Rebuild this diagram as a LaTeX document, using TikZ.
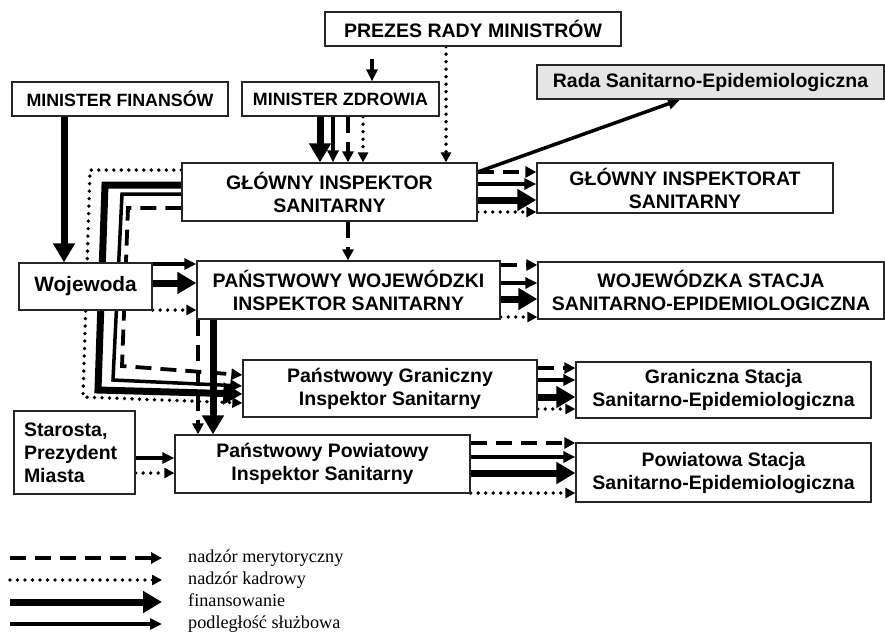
\documentclass[tikz,border=0pt]{standalone}
\usepackage{fontspec}
\setmainfont{Liberation Serif}
\setsansfont{Liberation Sans}
\usetikzlibrary{arrows.meta,backgrounds}
\definecolor{radagray}{gray}{0.9}
\tikzset{
  box/.style={draw=black!85, line width=1.3pt, fill=white, inner sep=0pt, align=center,
    font=\sffamily\bfseries\fontsize{19.5}{23}\selectfont},
  smallbox/.style={box, font=\sffamily\bfseries\fontsize{17.8}{21}\selectfont},
  fin/.style={line width=7pt, -{Triangle[length=19pt,width=21pt]}},
  sluzb/.style={line width=3.5pt, -{Triangle[length=12pt,width=11pt]}},
  meryt/.style={line width=3.8pt, dash pattern=on 16pt off 9pt, -{Triangle[length=11pt,width=11pt]}},
  kadr/.style={line width=3.8pt, line cap=round, dash pattern=on 0pt off 7.5pt, -{Triangle[length=10pt,width=10pt]}},
  legtext/.style={anchor=west, inner sep=0pt, text height=12pt, text depth=4pt, font=\fontsize{18.2}{22}\selectfont}
}
\begin{document}
\begin{tikzpicture}[x=1pt, y=-1pt]
    \useasboundingbox (0,0) rectangle (885,632);

    % boxes
    \node[box, minimum width=296pt, minimum height=34pt] (prezes) at (473,29) {PREZES RADY MINISTRÓW};
    \node[smallbox, minimum width=216pt, minimum height=34pt] (minfin) at (120,99) {MINISTER FINANSÓW};
    \node[smallbox, minimum width=197pt, minimum height=34pt] (minzdr) at (340.5,99) {MINISTER ZDROWIA};
    \node[box, fill=radagray, minimum width=347pt, minimum height=34pt] (rada) at (710.5,82) {Rada Sanitarno-Epidemiologiczna};
    \node[box, minimum width=295pt, minimum height=58pt] (gis) at (329.5,192) {GŁÓWNY INSPEKTOR\\SANITARNY};
    \node[box, minimum width=296pt, minimum height=50pt] (gir) at (685,188) {GŁÓWNY INSPEKTORAT\\SANITARNY};
    \node[box, minimum width=133pt, minimum height=47pt, font=\sffamily\bfseries\fontsize{20.8}{24}\selectfont] (woj) at (85.5,286.5) {Wojewoda};
    \node[box, minimum width=303pt, minimum height=58pt] (pwis) at (348.5,290) {PAŃSTWOWY WOJEWÓDZKI\\INSPEKTOR SANITARNY};
    \node[box, minimum width=346pt, minimum height=57pt] (wsse) at (711,290.5) {WOJEWÓDZKA STACJA\\SANITARNO-EPIDEMIOLOGICZNA};
    \node[box, minimum width=294pt, minimum height=57pt] (pgis) at (390,388.5) {Państwowy Graniczny\\Inspektor Sanitarny};
    \node[box, minimum width=295pt, minimum height=56pt] (gsse) at (723.5,390) {Graniczna Stacja\\Sanitarno-Epidemiologiczna};
    \node[box, minimum width=121pt, minimum height=83pt, text width=101pt, align=left] (star) at (74.5,452.5) {Starosta,\\Prezydent\\Miasta};
    \node[box, minimum width=295pt, minimum height=58pt] (ppis) at (322.5,464) {Państwowy Powiatowy\\Inspektor Sanitarny};
    \node[box, minimum width=295pt, minimum height=59pt] (psse) at (723.5,472.5) {Powiatowa Stacja\\Sanitarno-Epidemiologiczna};

    % connectors, behind the boxes
    \begin{scope}[on background layer]
        \draw[sluzb, shorten <=12pt] (prezes.south -| 372,0) -- (minzdr.north -| 372,0);
        \draw[kadr] (prezes.south -| 446,0) -- (gis.north -| 446,0);
        \foreach \xx/\st in {320/fin, 333/sluzb, 348/meryt, 363/kadr}
            \draw[\st] (minzdr.south -| \xx,0) -- (gis.north -| \xx,0);
        \draw[fin] (minfin.south -| 64,0) -- (woj.north -| 64,0);
        \draw[sluzb] (gis.east |- 0,172) -- (rada.south -| 680,0);
        \draw[meryt] (gis.south -| 348,0) -- (pwis.north -| 348,0);
        \draw[meryt] (pwis.south -| 198,0) -- (ppis.north -| 198,0);
        \draw[fin] (pwis.south -| 213,0) -- (ppis.north -| 213,0);

        \foreach \yy/\st in {172/meryt, 184/sluzb, 200/fin, 212/kadr}
            \draw[\st] (gis.east |- 0,\yy) -- (gir.west |- 0,\yy);
        \foreach \yy/\st in {264/sluzb, 283/fin, 310/kadr}
            \draw[\st] (woj.east |- 0,\yy) -- (pwis.west |- 0,\yy);
        \foreach \yy/\st in {265/meryt, 283/sluzb, 299/fin, 317/kadr}
            \draw[\st] (pwis.east |- 0,\yy) -- (wsse.west |- 0,\yy);
        \foreach \yy/\st in {368/meryt, 380/sluzb, 397/fin, 409/kadr}
            \draw[\st] (pgis.east |- 0,\yy) -- (gsse.west |- 0,\yy);
        \foreach \yy/\st in {458/sluzb, 473/kadr}
            \draw[\st] (star.east |- 0,\yy) -- (ppis.west |- 0,\yy);
        \foreach \yy/\st in {443/meryt, 457/sluzb, 473/fin, 493/kadr}
            \draw[\st] (ppis.east |- 0,\yy) -- (psse.west |- 0,\yy);

        % GIS down the left side to the border inspector
        \draw[kadr] (gis.west |- 0,170) -- (90,170) -- (83,397) -- (pgis.west |- 0,403);
        \draw[fin] (gis.west |- 0,185) -- (105,185) -- (98,390) -- (pgis.west |- 0,394);
        \draw[sluzb] (gis.west |- 0,194) -- (122,194) -- (113,380) -- (pgis.west |- 0,386);
        \draw[meryt] (gis.west |- 0,208) -- (128,208) -- (122,366) -- (pgis.west |- 0,375);
    \end{scope}

    % legend
    \foreach \st/\txt [count=\i] in {meryt/nadzór merytoryczny, kadr/nadzór kadrowy, fin/finansowanie, sluzb/podległość służbowa} {
        \node[legtext] (leg\i) at (188,536+22*\i) {\txt};
        \draw[\st] ([xshift=-178pt]leg\i.west) -- ([xshift=-26pt]leg\i.west);
    }
\end{tikzpicture}
\end{document}
